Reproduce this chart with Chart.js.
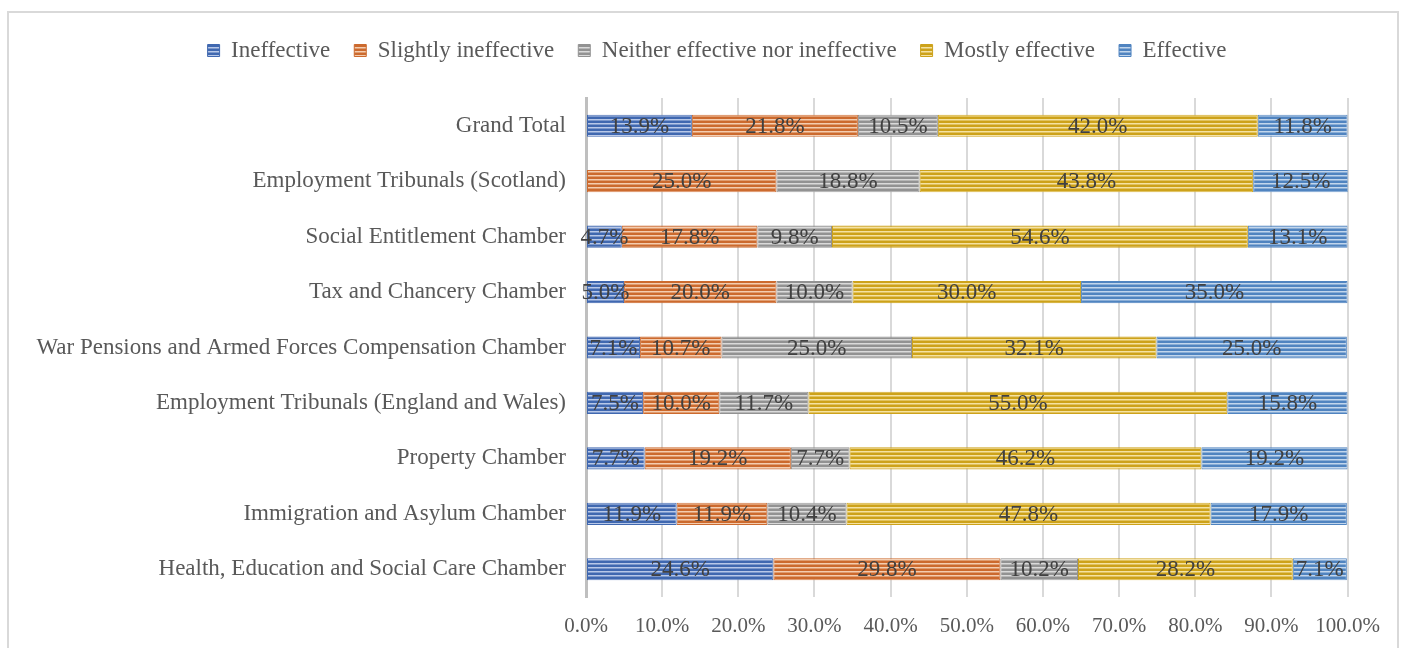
<!DOCTYPE html>
<html>
<head>
<meta charset="utf-8">
<script src="https://cdn.jsdelivr.net/npm/chart.js@4"></script>
<style>
  body { margin: 0; background: #fff; }
  #frame { position: absolute; left: 7px; top: 11px; width: 1388px; height: 645px; border: 2px solid #d9d9d9; }
  #frame canvas { display: block; }
</style>
</head>
<body>
<div id="frame"><canvas id="chart" width="1388" height="645"></canvas></div>
<script>
// Categories (top to bottom) and series values in percent
const categories = [
    'Grand Total',
    'Employment Tribunals (Scotland)',
    'Social Entitlement Chamber',
    'Tax and Chancery Chamber',
    'War Pensions and Armed Forces Compensation Chamber',
    'Employment Tribunals (England and Wales)',
    'Property Chamber',
    'Immigration and Asylum Chamber',
    'Health, Education and Social Care Chamber'
];
const seriesNames = ['Ineffective', 'Slightly ineffective', 'Neither effective nor ineffective', 'Mostly effective', 'Effective'];
const ineffective = [13.9, 0, 4.7, 5.0, 7.1, 7.5, 7.7, 11.9, 24.6];
const slightlyIneffective = [21.8, 25.0, 17.8, 20.0, 10.7, 10.0, 19.2, 11.9, 29.8];
const neither = [10.5, 18.8, 9.8, 10.0, 25.0, 11.7, 7.7, 10.4, 10.2];
const mostlyEffective = [42.0, 43.8, 54.6, 30.0, 32.1, 55.0, 46.2, 47.8, 28.2];
const effective = [11.8, 12.5, 13.1, 35.0, 25.0, 15.8, 19.2, 17.9, 7.1];
const xTicks = [0, 10, 20, 30, 40, 50, 60, 70, 80, 90, 100];

const FONT = "'Liberation Serif', 'Times New Roman', serif";

// striped fill like the Excel "narrow horizontal" pattern
function stripes(dark, light) {
    const c = document.createElement('canvas');
    c.width = 8; c.height = 4;
    const g = c.getContext('2d');
    g.fillStyle = dark; g.fillRect(0, 0, 8, 4);
    g.fillStyle = light; g.fillRect(0, 2, 8, 1);
    g.globalAlpha = 0.5; g.fillRect(0, 3, 8, 1);
    return g.createPattern(c, 'repeat');
}

const palette = [
    ['#4068B0', '#B8C8E8'],
    ['#CC6A2E', '#F4CDB0'],
    ['#929292', '#DADADA'],
    ['#CDA21A', '#F5E2A2'],
    ['#5084C0', '#C2D6EC']
];
const values = [ineffective, slightlyIneffective, neither, mostlyEffective, effective];

const datasets = values.map(function(v, i) {
    return {
        label: seriesNames[i],
        data: v,
        backgroundColor: stripes(palette[i][0], palette[i][1]),
        borderColor: palette[i][0],
        borderWidth: 1,
        borderSkipped: false,
        barPercentage: 1,
        categoryPercentage: 0.4
    };
});

// value labels centred in each segment
const segmentLabels = {
    id: 'segmentLabels',
    afterDatasetsDraw(chart) {
        const ctx = chart.ctx;
        ctx.save();
        ctx.font = '23px ' + FONT;
        ctx.fillStyle = '#404040';
        ctx.textAlign = 'center';
        ctx.textBaseline = 'middle';
        chart.data.datasets.forEach(function(ds, i) {
            chart.getDatasetMeta(i).data.forEach(function(bar, j) {
                const v = ds.data[j];
                if (!v) return;
                ctx.fillText(v.toFixed(1) + '%', (bar.x + bar.base) / 2, bar.y + 1);
            });
        });
        ctx.restore();
    }
};

// extra space between legend and plot, legend centred on the whole frame
const legendGap = {
    id: 'legendGap',
    beforeInit(chart) {
        const fit = chart.legend.fit;
        chart.legend.fit = function() {
            fit.call(this);
            this.height += 26;
        };
    },
    afterLayout(chart) {
        chart.legend.left += 38;
        chart.legend.right += 38;
    }
};

new Chart(document.getElementById('chart'), {
    type: 'bar',
    data: { labels: categories, datasets: datasets },
    plugins: [segmentLabels, legendGap],
    options: {
        indexAxis: 'y',
        responsive: false,
        animation: false,
        layout: { padding: { left: 0, right: 48, top: 2, bottom: 0 } },
        plugins: {
            legend: {
                position: 'top',
                labels: {
                    font: { family: FONT, size: 23 },
                    color: '#595959',
                    boxWidth: 12,
                    boxHeight: 12,
                    padding: 24
                }
            },
            tooltip: { enabled: false }
        },
        scales: {
            x: {
                stacked: true,
                min: 0,
                max: 100,
                afterBuildTicks: function(axis) {
                    axis.ticks = xTicks.map(function(t) { return { value: t }; });
                },
                ticks: {
                    font: { family: FONT, size: 21 },
                    color: '#595959',
                    padding: 17,
                    callback: function(value) { return value.toFixed(1) + '%'; }
                },
                grid: { color: '#d9d9d9', lineWidth: 2, drawTicks: false },
                border: { display: false },
                afterFit: function(axis) { axis.height = 61; }
            },
            y: {
                stacked: true,
                ticks: {
                    font: { family: FONT, size: 23 },
                    color: '#595959',
                    padding: 20
                },
                grid: { display: false, drawTicks: false },
                border: { color: '#bfbfbf', width: 3 },
                afterFit: function(axis) { axis.width = 577; }
            }
        }
    }
});
</script>
</body>
</html>
